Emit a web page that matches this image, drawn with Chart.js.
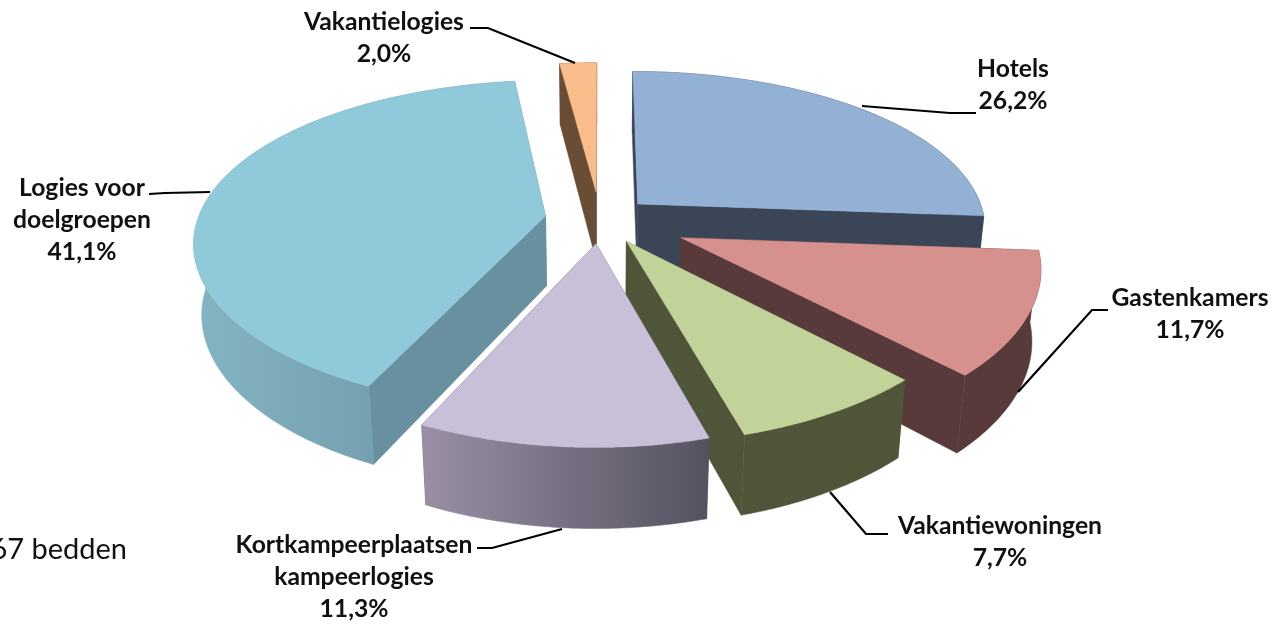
<!DOCTYPE html>
<html>
<head>
<meta charset="utf-8">
<style>
  html, body { margin: 0; background: #fff; overflow: hidden; }
  #wrap { position: relative; width: 1275px; height: 626px; }
</style>
<script src="https://cdn.jsdelivr.net/npm/chart.js@4"></script>
</head>
<body>
<div id="wrap"><canvas id="pie"></canvas></div>
<script>
// data
const categories = ['Hotels', 'Gastenkamers', 'Vakantiewoningen', 'Kortkampeerplaatsen kampeerlogies', 'Logies voor doelgroepen', 'Vakantielogies'];
const shares = [26.2, 11.7, 7.7, 11.3, 41.1, 2.0];

// styling per slice, explode is percent of the radius
const explode = [15, 25.3, 15, 14.5, 15.9, 18];
const topColors = ['#93b0d5', '#d6918f', '#c1d399', '#c8bfd8', '#90c9d9', '#f8bd8a'];
const cutColors = ['#3a4657', '#583a3a', '#50553a', '#5a5664', '#69909f', '#6a4d35'];
const wallFrom = ['#3a4657', '#583a3a', '#50553a', '#9a8fa5', '#84b4c3', '#6a4d35'];
const wallTo = ['#3a4657', '#583a3a', '#50553a', '#555260', '#69909f', '#6a4d35'];
const labelLines = [['Hotels'], ['Gastenkamers'], ['Vakantiewoningen'], ['Kortkampeerplaatsen', 'kampeerlogies'], ['Logies voor', 'doelgroepen'], ['Vakantielogies']];
const labelAt = [[1013, 69], [1190, 298], [1000, 526], [354, 545], [82, 188], [384, 22]];
const leaders = [
  [[862, 106], [950, 113], [976, 113]],
  [[1018, 392], [1092, 310], [1108, 310]],
  [[830, 492], [866, 534], [888, 534]],
  [[562, 529], [492, 548], [477, 548]],
  [[210, 192], [165, 193], [149, 194]],
  [[575, 63], [488, 28], [470, 28]]
];

// view of the tilted pie
const view = { cx: 600, cy: 220, rx: 348, ry: 160, depth: 70, nearX: 0.15, nearY: 0.17, nearD: 0.12, low: 0.02 };

function project(u, v, h) {
  const sx = 1 / (1 - view.nearX * v + view.low * h);
  return [
    view.cx + view.rx * u * sx,
    view.cy + view.ry * v / (1 - view.nearY * v) + view.depth * h / (1 - view.nearD * v)
  ];
}

function poly(ctx, pts, fill) {
  ctx.beginPath();
  pts.forEach((p, i) => i ? ctx.lineTo(p[0], p[1]) : ctx.moveTo(p[0], p[1]));
  ctx.closePath();
  ctx.fillStyle = fill;
  ctx.fill();
  ctx.strokeStyle = fill;
  ctx.lineWidth = 0.5;
  ctx.stroke();
}

const pie3d = {
  id: 'pie3d',
  beforeDatasetDraw(chart, args) {
    const ctx = chart.ctx;
    const arcs = chart.getDatasetMeta(args.index).data;
    const order = arcs.map((a, i) => i).sort((i, j) =>
      Math.sin((arcs[i].startAngle + arcs[i].endAngle) / 2) - Math.sin((arcs[j].startAngle + arcs[j].endAngle) / 2));

    order.forEach(i => {
      const arc = arcs[i];
      const mid = (arc.startAngle + arc.endAngle) / 2;
      const e = arc.options.offset / 100;
      const ox = e * Math.cos(mid), oy = e * Math.sin(mid);
      const at = (a, r, h) => project(ox + r * Math.cos(a), oy + r * Math.sin(a), h);
      const n = 60;
      const angles = [];
      for (let k = 0; k <= n; k++) angles.push(arc.startAngle + (arc.endAngle - arc.startAngle) * k / n);

      // cut faces
      [arc.startAngle, arc.endAngle].forEach(a => {
        poly(ctx, [at(a, 0, 0), at(a, 1, 0), at(a, 1, 1), at(a, 0, 1)], cutColors[i]);
      });
      // outer wall
      const rimTop = angles.map(a => at(a, 1, 0));
      const rimLow = angles.map(a => at(a, 1, 1)).reverse();
      const xs = rimTop.map(p => p[0]);
      const g = ctx.createLinearGradient(Math.min(...xs), 0, Math.max(...xs), 0);
      g.addColorStop(0, wallFrom[i]);
      g.addColorStop(1, wallTo[i]);
      poly(ctx, rimTop.concat(rimLow), g);
      // top face
      poly(ctx, [at(0, 0, 0)].concat(rimTop), topColors[i]);
    });
    return false;
  },
  afterDraw(chart) {
    const ctx = chart.ctx;
    ctx.save();
    ctx.strokeStyle = '#000';
    ctx.lineWidth = 2.2;
    leaders.forEach(line => {
      ctx.beginPath();
      line.forEach((p, i) => i ? ctx.lineTo(p[0], p[1]) : ctx.moveTo(p[0], p[1]));
      ctx.stroke();
    });
    ctx.fillStyle = '#111';
    ctx.textAlign = 'center';
    ctx.textBaseline = 'middle';
    ctx.font = 'bold 24.7px Lato';
    categories.forEach((c, i) => {
      const lines = labelLines[i].concat(shares[i].toFixed(1).replace('.', ',') + '%');
      lines.forEach((t, k) => ctx.fillText(t, labelAt[i][0], labelAt[i][1] + k * 32));
    });
    ctx.font = '29px Lato';
    ctx.textAlign = 'right';
    ctx.fillText('67 bedden', 127, 550);
    ctx.restore();
  }
};

new Chart(document.getElementById('pie'), {
  type: 'pie',
  data: {
    labels: categories,
    datasets: [{ data: shares, offset: explode, backgroundColor: topColors, borderWidth: 0 }]
  },
  options: {
    responsive: true,
    maintainAspectRatio: false,
    animation: false,
    plugins: { legend: { display: false }, tooltip: { enabled: false } }
  },
  plugins: [pie3d]
});
</script>
</body>
</html>
